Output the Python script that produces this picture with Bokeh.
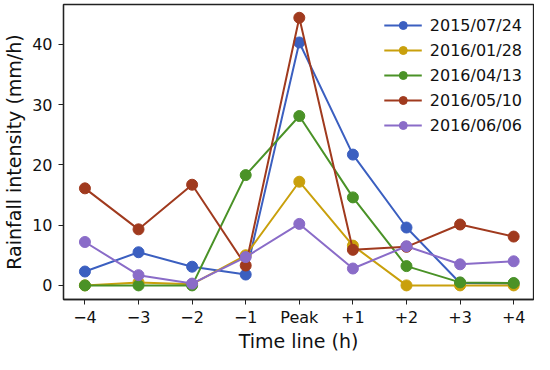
from bokeh.plotting import figure
from bokeh.models import FixedTicker, Range1d
from bokeh.embed import file_html
from bokeh.resources import INLINE

tick_labels = ["\u22124", "\u22123", "\u22122", "\u22121", "Peak", "+1", "+2", "+3", "+4"]
x_idx = list(range(len(tick_labels)))

series_names = ["2015/07/24", "2016/01/28", "2016/04/13", "2016/05/10", "2016/06/06"]
s_20150724 = [2.3, 5.5, 3.1, 1.8, 40.3, 21.7, 9.6, 0.4, 0.3]
s_20160128 = [0.0, 0.5, 0.2, 5.0, 17.2, 6.6, 0.0, 0.0, 0.0]
s_20160413 = [0.0, 0.0, 0.0, 18.3, 28.1, 14.6, 3.2, 0.5, 0.4]
s_20160510 = [16.1, 9.3, 16.7, 3.3, 44.4, 5.9, 6.4, 10.1, 8.1]
s_20160606 = [7.2, 1.7, 0.3, 4.7, 10.2, 2.8, 6.5, 3.5, 4.0]
series_values = [s_20150724, s_20160128, s_20160413, s_20160510, s_20160606]
colors = ["#3b5fc0", "#c9a00c", "#4a9227", "#a03a1e", "#8a6cc8"]

FONT = "DejaVu Sans"

p = figure(width=534, height=354, output_backend="svg", toolbar_location=None,
           x_range=Range1d(-0.4, 8.37), y_range=Range1d(-2.34, 46.6),
           min_border_left=56, min_border_right=1, min_border_top=4, min_border_bottom=40)

for name, vals, c in zip(series_names, series_values, colors):
    p.line(x_idx, vals, line_color=c, line_width=2, legend_label=name)
    p.scatter(x_idx, vals, size=11, fill_color=c, line_color=c, legend_label=name)

p.xgrid.visible = False
p.ygrid.visible = False
p.outline_line_color = "#222222"
p.outline_line_width = 1.3

p.xaxis.ticker = FixedTicker(ticks=x_idx)
p.xaxis.major_label_overrides = {i: t for i, t in zip(x_idx, tick_labels)}
p.yaxis.ticker = FixedTicker(ticks=[0, 10, 20, 30, 40])
p.xaxis.axis_label = "Time line (h)"
p.yaxis.axis_label = "Rainfall intensity (mm/h)"

for ax in (p.xaxis[0], p.yaxis[0]):
    ax.axis_label_text_font = FONT
    ax.axis_label_text_font_size = "19px"
    ax.axis_label_text_font_style = "normal"
    ax.axis_label_text_color = "#111111"
    ax.major_label_text_font = FONT
    ax.major_label_text_font_size = "16px"
    ax.major_label_text_color = "#111111"
    ax.axis_line_color = "#222222"
    ax.axis_line_width = 1.3
    ax.major_tick_line_color = "#222222"
    ax.major_tick_in = 0
    ax.major_tick_out = 5
    ax.minor_tick_line_color = None

p.xaxis.major_label_standoff = 3
p.xaxis.axis_label_standoff = 0
p.yaxis.major_label_standoff = 6
p.yaxis.axis_label_standoff = 4

leg = p.legend[0]
leg.location = "top_right"
leg.border_line_color = None
leg.background_fill_alpha = 0.0
leg.label_text_font = FONT
leg.label_text_font_size = "16px"
leg.label_text_color = "#111111"
leg.glyph_width = 38
leg.glyph_height = 20
leg.label_height = 20
leg.spacing = 5
leg.label_standoff = 8
leg.margin = 11
leg.padding = 4

open("out.html", "w").write(file_html(p, INLINE))
